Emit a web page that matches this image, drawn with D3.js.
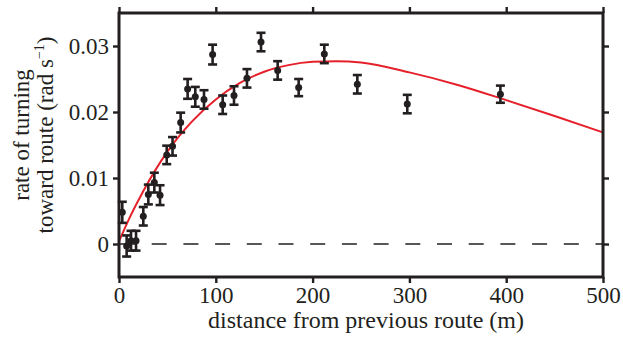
<!DOCTYPE html>
<html>
<head>
<meta charset="utf-8">
<script src="https://cdn.jsdelivr.net/npm/d3@7"></script>
<style>
  html, body { margin: 0; padding: 0; background: #fff; }
  svg { display: block; }
  text { font-family: "Liberation Serif", "Times New Roman", serif; fill: #231f20; }
</style>
</head>
<body>
<script>
// Distance from previous route (m) for each binned measurement
const distances = [3.4, 7.9, 12.4, 17.6, 25.1, 30.3, 36.5, 42.4, 49.3, 55.3, 63.7, 70.9, 78.8,
  87.8, 96.7, 107.1, 118.8, 132.2, 146.7, 163.9, 185.6, 212.1, 246.2, 297.8, 394.0];
// Mean rate of turning toward route (rad/s)
const turnRates = [0.0048, -0.0003, 0.0005, 0.0005, 0.0042, 0.0075, 0.0093, 0.0074, 0.0135, 0.0148,
  0.0184, 0.0235, 0.0223, 0.0219, 0.0287, 0.0211, 0.0225, 0.0251, 0.0306, 0.0263, 0.0237, 0.0288,
  0.0242, 0.0212, 0.0227];
// Standard error of each mean (rad/s)
const turnErrors = [0.0016, 0.0016, 0.0015, 0.0015, 0.0014, 0.0015, 0.0015, 0.0015, 0.0014, 0.0014,
  0.0015, 0.0015, 0.0015, 0.0014, 0.0015, 0.0014, 0.0014, 0.0014, 0.0014, 0.0014, 0.0013, 0.0014,
  0.0014, 0.0014, 0.0013];
// Fitted model curve, sampled along distance
const fitDistances = [0, 12, 25, 50, 75, 100, 125, 150, 175, 200, 225, 250, 300, 350, 400, 450, 500];
const fitRates = [0.0004, 0.0043, 0.0080, 0.0140, 0.0185, 0.0219, 0.0244, 0.0261, 0.0271, 0.0276,
  0.0277, 0.0275, 0.0260, 0.0241, 0.0218, 0.0194, 0.0169];
// Axis ticks
const xTicks = [0, 100, 200, 300, 400, 500];
const yTicks = [0, 0.01, 0.02, 0.03];

const W = 623, H = 339;
const plotLeft = 119, plotRight = 603, plotTop = 13, plotBottom = 277;
const ink = "#231f20";

const svg = d3.select("body").append("svg").attr("width", W).attr("height", H);

const x = d3.scaleLinear().domain([0, 500]).range([plotLeft, plotRight]);
const y = d3.scaleLinear().domain([-0.005, 0.035]).range([plotBottom, plotTop]);

// Zero reference line
svg.append("line")
  .attr("x1", x(0)).attr("x2", x(500))
  .attr("y1", y(0)).attr("y2", y(0))
  .attr("stroke", ink).attr("stroke-width", 1.3)
  .attr("stroke-dasharray", "15,16.7")
  .attr("stroke-dashoffset", -1);

// Fitted curve
const line = d3.line().x(d => x(d[0])).y(d => y(d[1])).curve(d3.curveMonotoneX);
svg.append("path")
  .datum(fitDistances.map((d, i) => [d, fitRates[i]]))
  .attr("d", line)
  .attr("fill", "none")
  .attr("stroke", "#e5202a")
  .attr("stroke-width", 2);

// Error bars and means
const pts = distances.map((d, i) => ({ d, v: turnRates[i], e: turnErrors[i] }));
const g = svg.append("g").selectAll("g").data(pts).join("g");
g.append("line")
  .attr("x1", p => x(p.d)).attr("x2", p => x(p.d))
  .attr("y1", p => y(p.v - p.e)).attr("y2", p => y(p.v + p.e))
  .attr("stroke", ink).attr("stroke-width", 2.6);
[-1, 1].forEach(s => {
  g.append("line")
    .attr("x1", p => x(p.d) - 4.5).attr("x2", p => x(p.d) + 4.5)
    .attr("y1", p => y(p.v + s * p.e)).attr("y2", p => y(p.v + s * p.e))
    .attr("stroke", ink).attr("stroke-width", 2.6);
});
g.append("circle")
  .attr("cx", p => x(p.d)).attr("cy", p => y(p.v))
  .attr("r", 3.5).attr("fill", ink);

// Axes on all four sides, outward ticks
const fmtY = v => v === 0 ? "0" : d3.format(".2f")(v);
function styleAxis(sel) {
  sel.select(".domain").remove();
  sel.selectAll(".tick line").attr("stroke", ink).attr("stroke-width", 2.4);
  sel.selectAll(".tick text").attr("fill", ink).style("font-size", "23px")
    .style("font-family", '"Liberation Serif", "Times New Roman", serif');
}
svg.append("g").attr("transform", `translate(0,${plotBottom})`)
  .call(d3.axisBottom(x).tickValues(xTicks).tickSize(6).tickPadding(4)).call(styleAxis);
svg.append("g").attr("transform", `translate(0,${plotTop})`)
  .call(d3.axisTop(x).tickValues(xTicks).tickSize(6).tickFormat("")).call(styleAxis);
svg.append("g").attr("transform", `translate(${plotLeft},0)`)
  .call(d3.axisLeft(y).tickValues(yTicks).tickSize(6).tickPadding(4).tickFormat(fmtY)).call(styleAxis);
svg.append("g").attr("transform", `translate(${plotRight},0)`)
  .call(d3.axisRight(y).tickValues(yTicks).tickSize(6).tickFormat("")).call(styleAxis);

// Frame
svg.append("rect")
  .attr("x", plotLeft).attr("y", plotTop)
  .attr("width", plotRight - plotLeft).attr("height", plotBottom - plotTop)
  .attr("fill", "none").attr("stroke", ink).attr("stroke-width", 3);

// Axis titles
svg.append("text")
  .attr("x", 366).attr("y", 328)
  .attr("text-anchor", "middle")
  .style("font-size", "24px")
  .text("distance from previous route (m)");

const yl = svg.append("text")
  .attr("transform", "translate(0,135) rotate(-90)")
  .attr("text-anchor", "middle")
  .style("font-size", "23px");
yl.append("tspan").attr("x", 0).attr("y", 29).text("rate of turning");
const l2 = yl.append("tspan").attr("x", 0).attr("y", 53);
l2.append("tspan").text("toward route (rad s");
l2.append("tspan").attr("dy", -9).style("font-size", "14px").text("\u22121");
l2.append("tspan").attr("dy", 9).text(")");
</script>
</body>
</html>
